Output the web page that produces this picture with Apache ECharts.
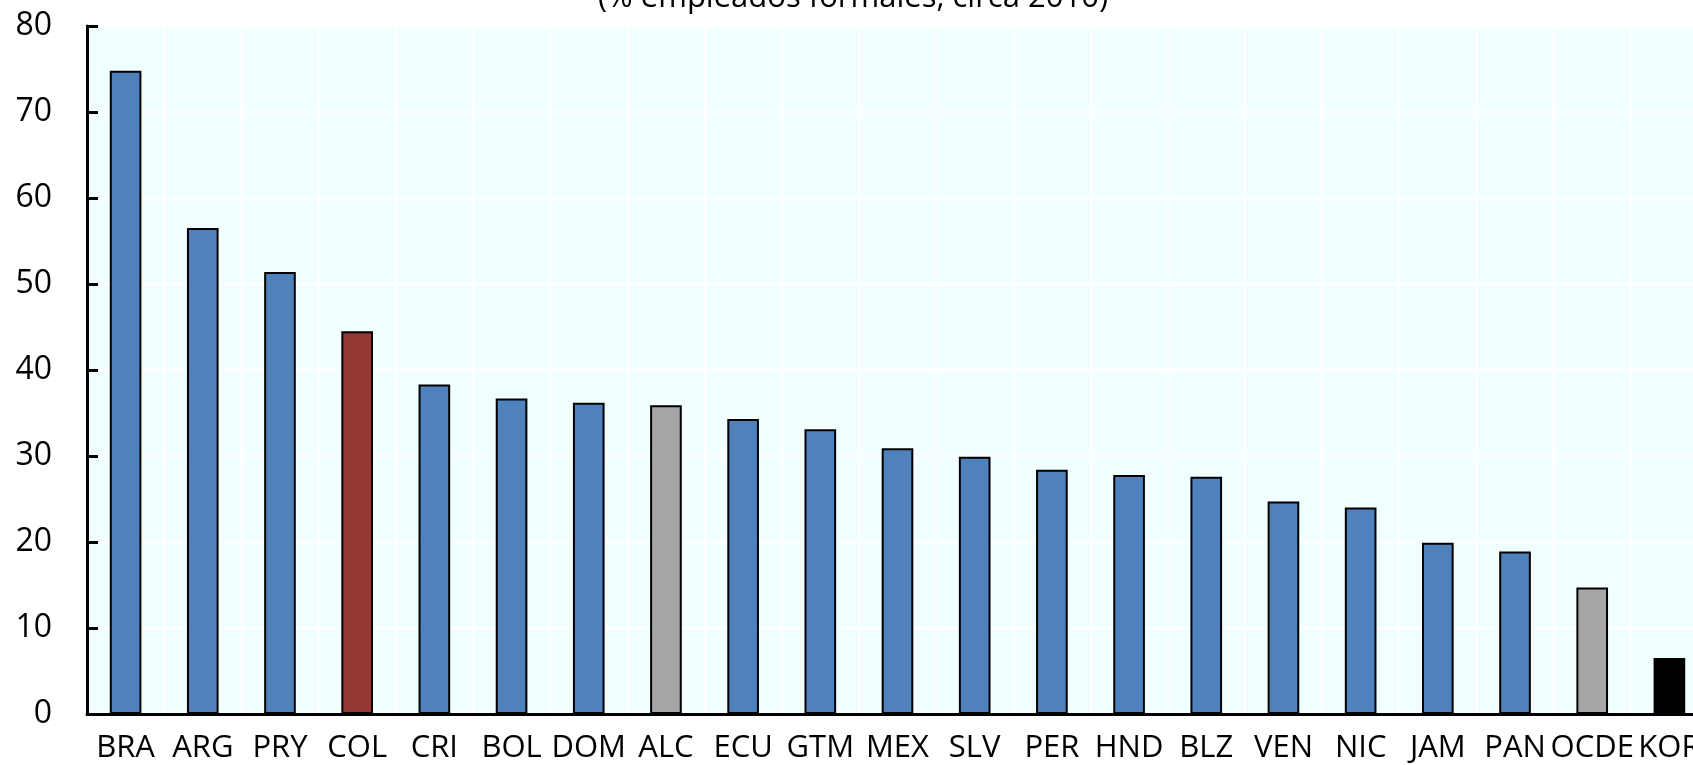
<!DOCTYPE html>
<html lang="es">
<head>
<meta charset="UTF-8">
<title>Empleados formales</title>
<script src="https://cdn.jsdelivr.net/npm/echarts@6/dist/echarts.min.js"></script>
<style>
  html, body { margin: 0; padding: 0; background: #fff; }
  #chart { width: 1693px; height: 765px; }
</style>
</head>
<body>
<div id="chart"></div>
<script>
// paises y valores (% empleados formales)
const paises = ['BRA', 'ARG', 'PRY', 'COL', 'CRI', 'BOL', 'DOM', 'ALC', 'ECU', 'GTM', 'MEX',
    'SLV', 'PER', 'HND', 'BLZ', 'VEN', 'NIC', 'JAM', 'PAN', 'OCDE', 'KOR'];
const valores = [74.8, 56.5, 51.4, 44.5, 38.3, 36.7, 36.2, 35.9, 34.3, 33.1, 30.9,
    29.9, 28.4, 27.8, 27.6, 24.7, 24.0, 19.9, 18.9, 14.7, 6.5];
const yTicks = [0, 10, 20, 30, 40, 50, 60, 70, 80];
const titulo = '(% empleados formales, circa 2010)';

// colores por grupo
const colores = {
    COL: '#953735',
    ALC: '#A6A6A6',
    OCDE: '#A6A6A6',
    KOR: '#000000'
};
const azul = '#4F81BD';

const fuente = '"Open Sans", sans-serif';

var chart = echarts.init(document.getElementById('chart'));

var option = {
    animation: false,
    backgroundColor: '#ffffff',
    graphic: [{
        type: 'text',
        style: {
            text: titulo,
            x: 853,
            y: 14,
            textAlign: 'center',
            textVerticalAlign: 'bottom',
            font: '31px "Open Sans", sans-serif',
            fill: '#000'
        }
    }],
    // el area de trazado sigue mas alla del borde derecho (recortada)
    grid: {
        left: 87,
        top: 26,
        bottom: 51,
        width: 1621,
        outerBoundsMode: 'none',
        containLabel: false,
        show: true,
        backgroundColor: '#F2FFFF',
        borderColor: '#000',
        borderWidth: 2
    },
    xAxis: {
        type: 'category',
        data: paises,
        axisLine: { lineStyle: { color: '#000', width: 3 } },
        axisTick: { inside: true, length: 11, lineStyle: { color: '#000', width: 2 } },
        axisLabel: {
            interval: 0,
            margin: 19,
            color: '#000',
            fontSize: 31,
            fontFamily: fuente
        },
        splitLine: { show: true, lineStyle: { color: '#ffffff', width: 2 } }
    },
    yAxis: {
        type: 'value',
        min: yTicks[0],
        max: yTicks[yTicks.length - 1],
        interval: 10,
        axisLine: { show: true, lineStyle: { color: '#000', width: 3 } },
        axisTick: { show: true, inside: true, length: 11, lineStyle: { color: '#000', width: 3 } },
        axisLabel: {
            margin: 35,
            color: '#000',
            fontSize: 32,
            fontFamily: fuente
        },
        splitLine: { show: true, lineStyle: { color: '#ffffff', width: 2 } }
    },
    series: [{
        type: 'bar',
        barWidth: '41%',
        data: valores.map((v, i) => ({
            value: v,
            itemStyle: { color: colores[paises[i]] || azul }
        })),
        itemStyle: { borderColor: '#000', borderWidth: 2 }
    }]
};

chart.setOption(option);
</script>
</body>
</html>
